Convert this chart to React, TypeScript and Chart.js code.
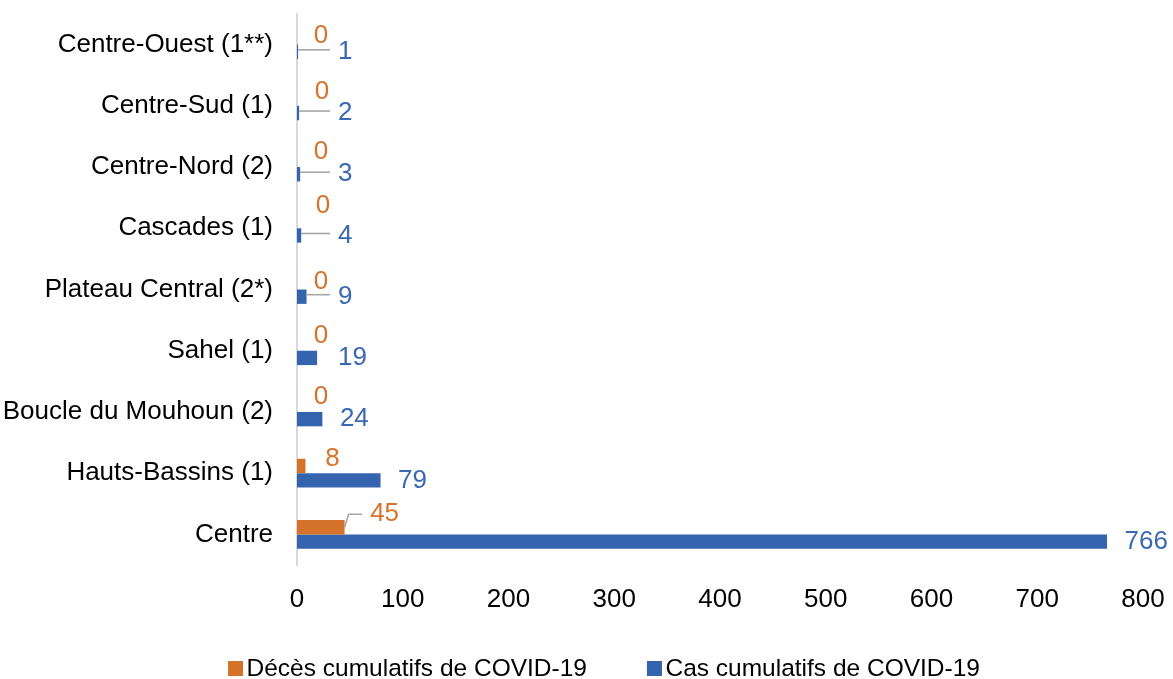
import React, { useEffect, useRef } from "react";
import { Chart, registerables } from "chart.js";

Chart.register(...registerables);

// Regions (top to bottom) and cumulative COVID-19 figures
const regions = [
  "Centre-Ouest (1**)",
  "Centre-Sud (1)",
  "Centre-Nord (2)",
  "Cascades (1)",
  "Plateau Central (2*)",
  "Sahel (1)",
  "Boucle du Mouhoun (2)",
  "Hauts-Bassins (1)",
  "Centre",
];
const decesCumules = [0, 0, 0, 0, 0, 0, 0, 8, 45];
const casCumules = [1, 2, 3, 4, 9, 19, 24, 79, 766];
const seriesNames = ["Décès cumulatifs de COVID-19", "Cas cumulatifs de COVID-19"];
const xMin = 0;
const xMax = 800;
const xStep = 100;

const FONT = "'Liberation Sans', Arial, sans-serif";
const ORANGE = "#D57229";
const BLUE = "#3464AE";
const ORANGE_TEXT = "#D5732B";
const BLUE_TEXT = "#3A68B2";
const LEADER = "#A6A6A6";

// Hand placement of the death-count labels: [dx of label centre from bar end, lift above bar centre]
const decesLabelPlacement: [number, number][] = [
  [24, 2],
  [25, 7],
  [24, 8],
  [26, 15],
  [24, 0],
  [24, 8],
  [24, 8],
  [27, 7],
  [40, 13],
];

const barLabelsPlugin = {
  id: "barLabels",
  afterDatasetsDraw(chart: any) {
    const ctx = chart.ctx as CanvasRenderingContext2D;
    const zeroX = chart.scales.x.getPixelForValue(0);
    ctx.save();
    ctx.font = `26px ${FONT}`;
    ctx.textBaseline = "middle";
    ctx.textAlign = "left";
    chart.data.datasets.forEach((ds: any, di: number) => {
      const meta = chart.getDatasetMeta(di);
      meta.data.forEach((bar: any, i: number) => {
        const text = String(ds.data[i]);
        const w = ctx.measureText(text).width;
        let left: number;
        let y: number;
        if (di === 1) {
          left = Math.max(bar.x + 17.5, zeroX + 41);
          y = bar.y;
        } else {
          const [dx, lift] = decesLabelPlacement[i];
          left = bar.x + dx - w / 2;
          y = bar.y - lift;
        }
        const dist = Math.hypot(left - bar.x, y - bar.y);
        if (dist > 26) {
          const ly = di === 1 ? y - 2 : y;
          ctx.strokeStyle = LEADER;
          ctx.lineWidth = 1.6;
          ctx.beginPath();
          if (Math.abs(bar.y - ly) > 3) {
            ctx.moveTo(bar.x, bar.y);
            ctx.lineTo(bar.x + 4, ly);
          } else {
            ctx.moveTo(bar.x, ly);
          }
          ctx.lineTo(left - 8, ly);
          ctx.stroke();
        }
        ctx.fillStyle = di === 1 ? BLUE_TEXT : ORANGE_TEXT;
        ctx.fillText(text, left, y);
      });
    });
    ctx.restore();
  },
};

// Legend drawn under the axis: square swatch followed closely by the series name
const bottomLegendPlugin = {
  id: "bottomLegend",
  afterDraw(chart: any) {
    const ctx = chart.ctx as CanvasRenderingContext2D;
    ctx.save();
    ctx.font = `24.5px ${FONT}`;
    ctx.textBaseline = "alphabetic";
    ctx.textAlign = "left";
    const box = 15;
    const gap = 3.5;
    const spacing = 60;
    const items = chart.data.datasets.map((ds: any) => ({
      text: ds.label as string,
      color: ds.backgroundColor as string,
      w: ctx.measureText(ds.label).width,
    }));
    const total =
      items.reduce((s: number, it: any) => s + box + gap + it.w, 0) + spacing * (items.length - 1);
    let x = chart.width / 2 + 17.5 - total / 2;
    const baseline = 676;
    items.forEach((it: any) => {
      ctx.fillStyle = it.color;
      ctx.fillRect(x, baseline - box, box, box);
      x += box + gap;
      ctx.fillStyle = "#000000";
      ctx.fillText(it.text, x, baseline);
      x += it.w + spacing;
    });
    ctx.restore();
  },
};

export default function App() {
  const canvasRef = useRef<HTMLCanvasElement | null>(null);

  useEffect(() => {
    if (!canvasRef.current) return;
    const chart = new Chart(canvasRef.current, {
      type: "bar",
      data: {
        labels: regions,
        datasets: [
          {
            label: seriesNames[0],
            data: decesCumules,
            backgroundColor: ORANGE,
            borderWidth: 0,
            categoryPercentage: 0.47,
            barPercentage: 1,
          },
          {
            label: seriesNames[1],
            data: casCumules,
            backgroundColor: BLUE,
            borderWidth: 0,
            categoryPercentage: 0.47,
            barPercentage: 1,
          },
        ],
      },
      options: {
        indexAxis: "y",
        responsive: false,
        animation: false,
        events: [],
        layout: { padding: { top: 14, right: 30, left: 0, bottom: 54 } },
        plugins: {
          legend: { display: false },
          tooltip: { enabled: false },
        },
        scales: {
          x: {
            min: xMin,
            max: xMax,
            ticks: {
              stepSize: xStep,
              color: "#000000",
              font: { family: FONT, size: 26 },
              padding: 19,
              maxRotation: 0,
            },
            grid: { display: false, drawTicks: false },
            border: { display: false },
            afterFit(scale: any) {
              scale.height = 60;
              scale.paddingLeft = 0;
              scale.paddingRight = 0;
            },
          },
          y: {
            ticks: {
              color: "#000000",
              font: { family: FONT, size: 26 },
              padding: 24,
              autoSkip: false,
            },
            grid: { display: false, drawTicks: false },
            border: { display: true, color: "#D9D9D9", width: 2 },
            afterFit(scale: any) {
              scale.width = 297;
              scale.paddingTop = 0;
              scale.paddingBottom = 0;
            },
          },
        },
      } as any,
      plugins: [barLabelsPlugin, bottomLegendPlugin],
    });
    return () => chart.destroy();
  }, []);

  return (
    <div style={{ position: "absolute", left: 0, top: 0, width: 1173, height: 679, background: "#ffffff" }}>
      <canvas ref={canvasRef} width={1173} height={679} style={{ display: "block" }} />
    </div>
  );
}
